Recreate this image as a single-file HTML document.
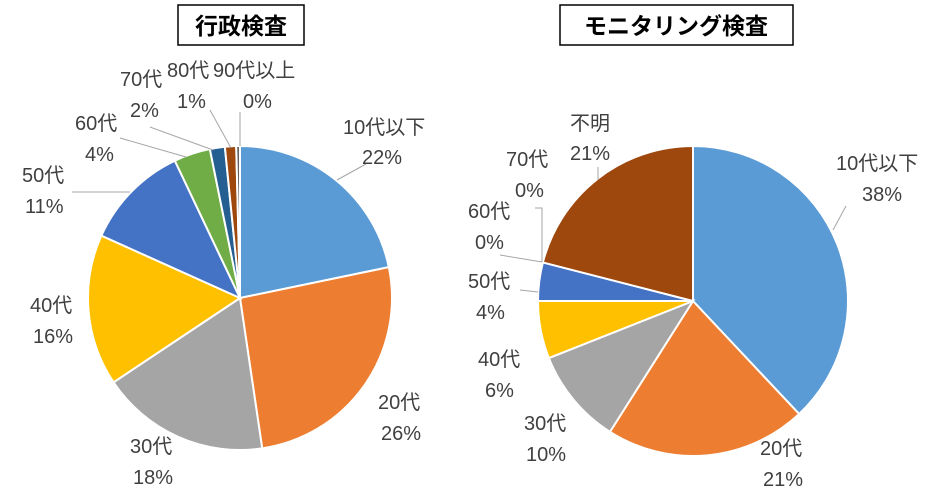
<!DOCTYPE html>
<html><head><meta charset="utf-8"><style>
body{margin:0;background:#fff;width:933px;height:495px;overflow:hidden}
svg text{font-family:"Liberation Sans","Noto Sans CJK JP",sans-serif;font-size:20px;fill:#404040}
</style></head><body>
<svg id="s" width="933" height="495" xmlns="http://www.w3.org/2000/svg">
<rect x="178" y="5" width="126" height="40" fill="#fff" stroke="#000" stroke-width="1.5"/>
<text x="241" y="34" text-anchor="middle" style="font-size:23px;font-weight:bold;fill:#000">行政検査</text>
<rect x="560" y="5" width="233" height="40" fill="#fff" stroke="#000" stroke-width="1.5"/>
<text x="676" y="34" text-anchor="middle" style="font-size:23px;font-weight:bold;fill:#000">モニタリング検査</text>
<g id="p1"></g><g id="p2"></g>
<g stroke="#a6a6a6" fill="none" stroke-width="1">
<polyline points="337,180 366,164 "/>
<polyline points="130,192 72,192"/>
<polyline points="186,157 120,138 "/>
<polyline points="213,150 150,127 "/>
<polyline points="231,148 210,110 "/>
<polyline points="240,146 240,112"/>
<polyline points="598,180 598,167"/>
<polyline points="538,292 520,290 "/>
<polyline points="542,262 500,255"/>
<polyline points="542,262 542,208 535,208"/>
<polyline points="833,230 846,206"/>
</g>
<text x="343" y="134">10代以下</text><text x="362" y="164">22%</text>
<text x="378" y="409">20代</text><text x="381" y="440">26%</text>
<text x="130" y="453">30代</text><text x="133" y="484">18%</text>
<text x="30" y="312">40代</text><text x="33" y="343">16%</text>
<text x="22" y="182">50代</text><text x="25" y="213">11%</text>
<text x="75" y="130">60代</text><text x="85" y="161">4%</text>
<text x="120" y="86">70代</text><text x="130" y="117">2%</text>
<text x="167" y="77">80代</text><text x="177" y="108">1%</text>
<text x="213" y="77">90代以上</text><text x="243" y="108">0%</text>
<text x="836" y="170">10代以下</text><text x="862" y="201">38%</text>
<text x="760" y="455">20代</text><text x="763" y="486">21%</text>
<text x="524" y="430">30代</text><text x="526" y="461">10%</text>
<text x="478" y="366">40代</text><text x="485" y="397">6%</text>
<text x="468" y="288">50代</text><text x="476" y="319">4%</text>
<text x="468" y="218">60代</text><text x="475" y="249">0%</text>
<text x="506" y="166">70代</text><text x="515" y="197">0%</text>
<text x="570" y="130">不明</text><text x="570" y="160">21%</text>
</svg>
<script>
function pie(id,cx,cy,r,vals,cols){
 var g=document.getElementById(id),a=0,tot=vals.reduce((x,y)=>x+y,0),h='';
 for(var i=0;i<vals.length;i++){
  var a2=a+vals[i]/tot*2*Math.PI;
  if(vals[i]>0){
  var x1=cx+r*Math.sin(a),y1=cy-r*Math.cos(a),x2=cx+r*Math.sin(a2),y2=cy-r*Math.cos(a2);
  h+='<path d="M'+cx+','+cy+'L'+x1+','+y1+'A'+r+','+r+' 0 '+((a2-a)>Math.PI?1:0)+' 1 '+x2+','+y2+'Z" fill="'+cols[i]+'" stroke="#fff" stroke-width="2"/>';}
  a=a2;}
 g.innerHTML=h;}
pie('p1',240,298,152,[21.9,26.1,18.1,16.2,11.3,3.9,1.6,1.2,0.4],['#5B9BD5','#ED7D31','#A5A5A5','#FFC000','#4472C4','#70AD47','#255E91','#9E480E','#636363']);
pie('p2',693,301,155,[38,21,10,6,4,0,0,21],['#5B9BD5','#ED7D31','#A5A5A5','#FFC000','#4472C4','#70AD47','#255E91','#9E480E']);
</script>
</body></html>
